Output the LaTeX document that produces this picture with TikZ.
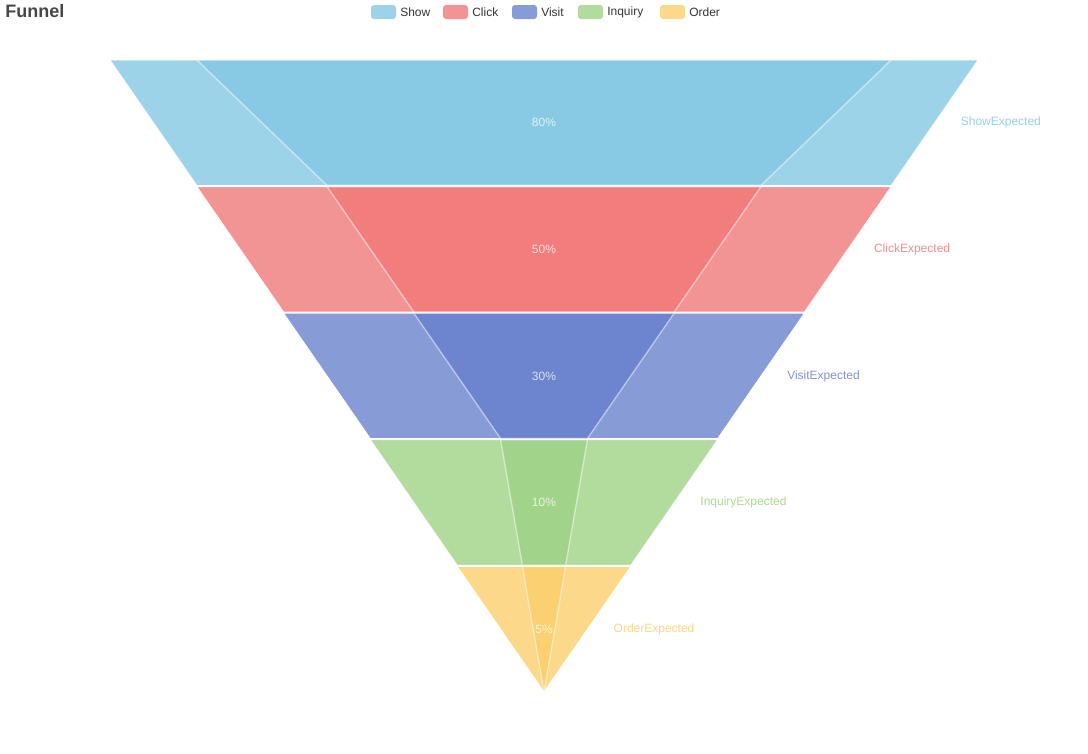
\documentclass[tikz,border=0pt]{standalone}
\usepackage{fontspec}
\setsansfont{Liberation Sans}
\definecolor{Show}{HTML}{73C0DE}
\definecolor{Click}{HTML}{EE6666}
\definecolor{Visit}{HTML}{5470C6}
\definecolor{Inquiry}{HTML}{91CC75}
\definecolor{Order}{HTML}{FAC858}
\definecolor{legendtext}{HTML}{333333}
\definecolor{titletext}{HTML}{464646}

\begin{document}
\begin{tikzpicture}[x=0.75pt,y=-0.75pt,font=\sffamily\fontsize{9}{11}\selectfont,
  expected/.style={fill=#1,fill opacity=0.7,draw=white,line width=0.6pt},
  actual/.style={fill=#1,opacity=0.5,draw=white,line width=1pt},
  legendbox/.style={fill=#1,fill opacity=0.7,rounded corners=2.25pt,inner sep=0pt,
    minimum width=18.75pt,minimum height=10.5pt}]
  \useasboundingbox (0,0) rectangle (1088,753);
  \node[anchor=base west,inner sep=0pt,font=\sffamily\bfseries\fontsize{13.5}{16}\selectfont,text=titletext] (title) at (5,17.5) {Funnel};
  % legend
  \foreach \n/\x in {Show/371,Click/443,Visit/512,Inquiry/578,Order/660}{
    \node[legendbox=\n] (key\n) at (\x+12.5,12) {};
    \node[anchor=west,inner sep=0pt,text=legendtext] (lbl\n) at (\x+29,12) {\n};
  }
  % rows: name / expected top / expected bottom / actual top / actual bottom / index
  \foreach \n/\e/\f/\a/\b/\i in {Show/100/80/80/50/0,Click/80/60/50/30/1,Visit/60/40/30/10/2,
      Inquiry/40/20/10/5/3,Order/20/0/5/0/4}{
    \pgfmathsetmacro\yt{60+\i*126.6}
    \pgfmathsetmacro\yb{\yt+125.4}
    \pgfmathsetmacro\ym{(\yt+\yb)/2}
    \draw[expected=\n] (544-\e*4.34,\yt) -- (544+\e*4.34,\yt) -- (544+\f*4.34,\yb) -- (544-\f*4.34,\yb) -- cycle;
    \draw[actual=\n] (544-\a*4.34,\yt) -- (544+\a*4.34,\yt) -- (544+\b*4.34,\yb) -- (544-\b*4.34,\yb) -- cycle;
    \node[text=white,text opacity=0.75] (pct\n) at (544,\ym) {\a\%};
    \node[anchor=west,inner sep=0pt,text=\n,text opacity=0.75] (exp\n) at (544+\e*2.17+\f*2.17+26,\ym) {\n Expected};
  }
\end{tikzpicture}
\end{document}
